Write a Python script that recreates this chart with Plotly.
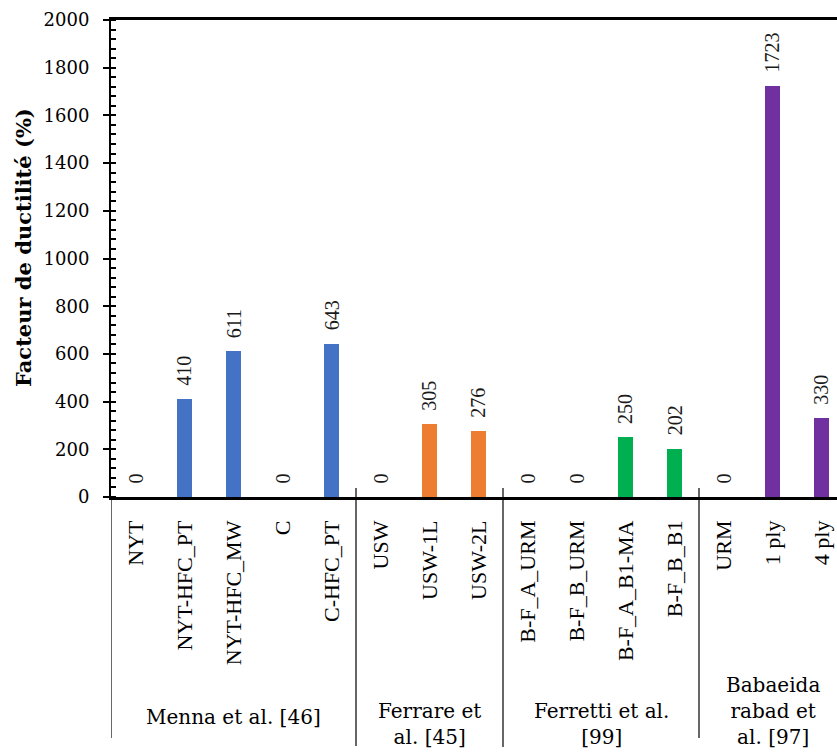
import plotly.graph_objects as go

# ---------------- data ----------------
group_labels = ["Menna et al. [46]", "Ferrare et<br>al. [45]", "Ferretti et al.<br>[99]", "Babaeida<br>rabad et<br>al. [97]"]
menna_cats = ["NYT", "NYT-HFC_PT", "NYT-HFC_MW", "C", "C-HFC_PT"]
menna_vals = [0, 410, 611, 0, 643]
ferrare_cats = ["USW", "USW-1L", "USW-2L"]
ferrare_vals = [0, 305, 276]
ferretti_cats = ["B-F_A_URM", "B-F_B_URM", "B-F_A_B1-MA", "B-F_B_B1"]
ferretti_vals = [0, 0, 250, 202]
baba_cats = ["URM", "1 ply", "4 ply"]
baba_vals = [0, 1723, 330]
y_title = "Facteur de ductilité (%)"

# ---------------- style ----------------
group_colors = ["#4472C4", "#ED7D31", "#00B050", "#7030A0"]
label_center_px = [717, 724, 724, 711]       # vertical centre of group labels (px)
sep_bottom_px = [738, 746, 747, 738]          # lower ends of group separators (px)

W, H = 837, 756
ML, MT, MB = 111, 20, 259
plot_w = W - ML
plot_h = H - MT - MB
cat_px = 49.0
x_range = [-0.5, -0.5 + plot_w / cat_px]

def py(pix):
    """pixel row -> paper y"""
    return (H - MB - pix) / plot_h

SERIF = "DejaVu Serif"
SERIF2 = "Liberation Serif"

cats_groups = [menna_cats, ferrare_cats, ferretti_cats, baba_cats]
vals_groups = [menna_vals, ferrare_vals, ferretti_vals, baba_vals]

fig = go.Figure()
annotations = []
shapes = []
all_cats = []
start = 0
for gi, (cats, vals) in enumerate(zip(cats_groups, vals_groups)):
    xs = list(range(start, start + len(cats)))
    all_cats += cats
    fig.add_trace(go.Bar(x=xs, y=vals, width=0.29, marker=dict(color=group_colors[gi], line_width=0),
                         showlegend=False, hoverinfo="skip"))
    for x, v in zip(xs, vals):
        annotations.append(dict(x=x, y=v, xref="x", yref="y", text=str(v), showarrow=False,
                                textangle=-90, xanchor="center", yanchor="bottom", yshift=11,
                                font=dict(family=SERIF2, size=20, color="#1a1a1a")))
    # separator at left of the group
    top = MT + plot_h if gi == 0 else MT + plot_h - 9
    shapes.append(dict(type="line", xref="x", yref="paper", x0=start - 0.5, x1=start - 0.5,
                       y0=py(top), y1=py(sep_bottom_px[gi]), line=dict(color="black", width=1.2)))
    annotations.append(dict(x=start + (len(cats) - 1) / 2, y=py(label_center_px[gi]), xref="x", yref="paper",
                            text=group_labels[gi], showarrow=False, xanchor="center", yanchor="middle",
                            align="center", font=dict(family=SERIF, size=20, color="black")))
    start += len(cats)

annotations.append(dict(x=(23 - ML) / plot_w, y=py(248), xref="paper", yref="paper", text="<b>" + y_title + "</b>",
                        showarrow=False, textangle=-90, xanchor="center", yanchor="middle",
                        font=dict(family=SERIF, size=21, color="black")))

fig.update_layout(
    width=W, height=H,
    margin=dict(l=ML, r=0, t=MT, b=MB, pad=0),
    plot_bgcolor="white", paper_bgcolor="white",
    bargap=0, annotations=annotations, shapes=shapes,
)
fig.update_xaxes(range=x_range, tickmode="array", tickvals=list(range(len(all_cats))), ticktext=all_cats,
                 tickangle=-90, ticks="", showgrid=False, zeroline=False,
                 showline=True, linecolor="black", linewidth=2.5, mirror=True,
                 ticklabelstandoff=12,
                 tickfont=dict(family=SERIF2, size=22, color="black"))
fig.update_yaxes(range=[0, 2000], dtick=200, tick0=0, ticks="outside", ticklen=6, tickwidth=1.5, tickcolor="black",
                 showgrid=False, zeroline=False, showline=True, linecolor="black", linewidth=2,
                 ticklabelstandoff=10,
                 minor=dict(dtick=40, ticks="inside", ticklen=5, tickwidth=1.5, tickcolor="black", showgrid=False),
                 tickfont=dict(family=SERIF, size=18, color="black"))

fig.write_html("out.html", config={"displayModeBar": False},
               post_script="document.body.style.margin='0px';")
